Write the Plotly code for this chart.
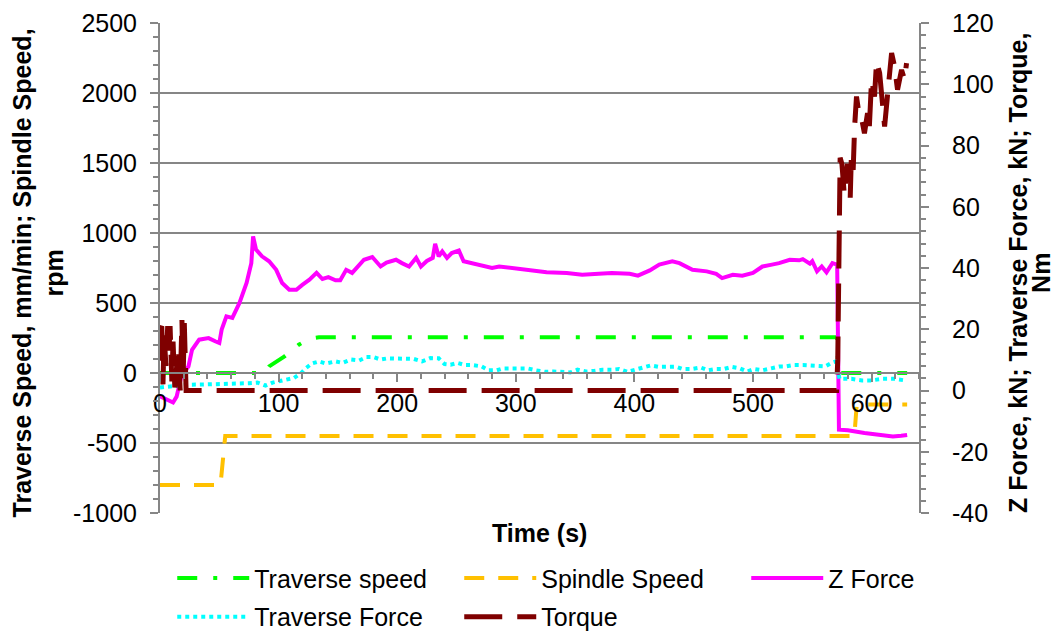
import plotly.graph_objects as go

# ---------------- data ----------------
# Traverse speed, mm/min (left axis)
ts_time = [0, 88, 92, 105, 117, 126, 134, 571, 572, 630]
ts_val = [0, 0, 47, 119, 202, 245, 255, 255, 0, 0]

# Spindle speed, rpm (left axis)
ss_time = [0, 51, 55, 585.5, 587.5, 630]
ss_val = [-800, -800, -450, -450, -225, -225]

# Z force, kN (right axis)
zf_time = [0, 11, 14, 18, 24, 27, 33, 41, 47, 50, 52, 56, 61, 67, 73, 77, 78.5, 81, 86, 92,
           98, 103, 109, 115, 120, 126, 132, 137, 142, 148, 152, 157, 162, 172, 179, 186, 191, 199, 204, 210,
           216, 220, 225, 230, 232, 235, 238, 242, 246, 252, 256, 263, 272, 280, 286, 297, 314, 326, 343, 356,
           370, 381, 396, 403, 413, 421, 432, 438, 449, 461, 469, 474, 483, 491, 500, 508, 516, 522, 531, 539,
           542, 548, 550, 554, 558, 562, 567, 571, 572.5, 580, 594, 605, 618, 625, 630]
zf_val = [-1.9, -3.9, -2.0, 4.6, 7.9, 13.3, 16.6, 17.1, 16.0, 15.5, 19.9, 24.2, 23.7, 28.6, 35.1, 41.6, 50.3, 46.0, 43.8, 42.2,
          39.4, 35.1, 32.9, 32.9, 34.5, 36.2, 38.4, 36.4, 37.0, 36.0, 36.0, 39.4, 38.4, 42.7, 43.6, 40.5, 41.8, 42.7, 41.6, 40.5,
          43.3, 40.5, 42.3, 43.3, 47.9, 43.8, 45.4, 43.3, 44.9, 45.7, 42.2, 41.6, 40.5, 40.0, 40.5, 40.0, 39.2, 38.6, 38.4, 37.8,
          38.1, 38.4, 38.1, 37.5, 39.2, 41.1, 42.2, 41.6, 39.4, 38.9, 38.1, 36.7, 37.8, 37.5, 38.4, 40.5, 41.1, 41.6, 42.7, 42.5,
          42.9, 41.4, 42.2, 38.9, 40.5, 38.6, 41.6, 41.1, -12.8, -13.0, -13.9, -14.4, -15.0, -14.8, -14.5]

# Traverse force, kN (right axis)
tf_time = [0, 12, 24, 40, 61, 75, 82, 89, 95, 102, 113, 119, 123, 128, 134, 140, 148, 154, 161, 168,
           174, 180, 186, 192, 200, 207, 214, 221, 228, 235, 240, 245, 251, 257, 263, 271, 277, 284, 289, 303,
           310, 317, 325, 332, 339, 346, 352, 359, 366, 373, 381, 387, 394, 401, 407, 414, 421, 427, 435, 441,
           448, 456, 462, 468, 475, 482, 489, 495, 501, 508, 515, 522, 527, 534, 542, 548, 554, 561, 566, 570,
           573, 583, 592, 600, 609, 619, 628]
tf_val = [1.0, 1.5, 1.9, 2.0, 2.1, 2.4, 2.6, 1.6, 2.6, 3.3, 4.1, 5.7, 7.3, 8.8, 9.5, 8.8, 9.5, 9.0, 10.1, 9.8,
          10.9, 10.9, 10.1, 10.5, 10.4, 10.1, 10.3, 9.5, 10.6, 10.5, 8.6, 8.4, 9.0, 8.3, 8.3, 7.9, 6.6, 6.6, 7.2, 7.2,
          7.2, 6.6, 6.1, 6.2, 6.1, 5.9, 6.8, 6.2, 6.4, 6.8, 6.8, 7.0, 6.1, 6.8, 7.2, 8.2, 7.7, 7.8, 7.8, 7.0,
          7.0, 7.5, 6.6, 7.0, 7.0, 7.7, 7.2, 6.2, 7.0, 6.6, 7.2, 7.8, 7.8, 8.3, 8.3, 8.1, 7.9, 7.9, 9.0, 9.5,
          3.8, 3.8, 3.3, 3.3, 3.8, 3.8, 3.3]

# Torque, Nm (right axis)
tq_time = [0, 1.5, 2.5, 3.5, 5, 6.5, 7.5, 8.5, 10, 11, 12.5, 14, 15.5, 17, 18.5, 19.5, 20.5, 22, 25,
           570.5, 571.5, 572, 572.5, 573, 573.5, 575, 577, 579.7, 582, 583, 584.5, 585.7, 587.3, 589.9, 592, 594,
           596.6, 598, 600, 602.5, 604.2, 606.8, 609, 611, 613.5, 616.9, 619.4, 621.9, 625.3, 627.8, 629.5]
tq_val = [20, 21, 2, 18, 8, 21, 12, 21, 3, 16, 1, 9, 14, 0, 23, 4, 22, 0, 0,
          0, 10, 30, 55, 62, 76, 74, 64, 74, 63, 77, 72, 86, 96, 89, 88, 84,
          90.6, 85, 101.5, 96, 107.5, 103.7, 96, 86.2, 96.6, 110.2, 105.8, 98.2, 104.7, 101.5, 106.9]

x_tickvals = [0, 100, 200, 300, 400, 500, 600]
x_ticktext = ["0", "100", "200", "300", "400", "500", "600"]
y1_tickvals = [-1000, -500, 0, 500, 1000, 1500, 2000, 2500]
y1_ticktext = ["-1000", "-500", "0", "500", "1000", "1500", "2000", "2500"]
y2_tickvals = [-40, -20, 0, 20, 40, 60, 80, 100, 120]
y2_ticktext = ["-40", "-20", "0", "20", "40", "60", "80", "100", "120"]

# ---------------- figure ----------------
FONT = "Liberation Sans, Arial, sans-serif"
AX = "#868686"
FS = 25

fig = go.Figure()
fig.add_trace(go.Scatter(x=ts_time, y=ts_val, name="Traverse speed", mode="lines",
                         line=dict(color="#00FF00", width=4, dash="20px,16px,4px,16px"),
                         yaxis="y", legend="legend"))
fig.add_trace(go.Scatter(x=ss_time, y=ss_val, name="Spindle Speed", mode="lines",
                         line=dict(color="#FFC000", width=4, dash="20px,14px"),
                         yaxis="y", legend="legend"))
fig.add_trace(go.Scatter(x=zf_time, y=zf_val, name="Z Force", mode="lines",
                         line=dict(color="#FF00FF", width=4),
                         yaxis="y2", legend="legend"))
fig.add_trace(go.Scatter(x=tf_time, y=tf_val, name="Traverse Force", mode="lines",
                         line=dict(color="#00FFFF", width=4, dash="4px,4px"),
                         yaxis="y2", legend="legend2"))
fig.add_trace(go.Scatter(x=tq_time, y=tq_val, name="Torque", mode="lines",
                         line=dict(color="#7F0000", width=5, dash="38px,15px"),
                         yaxis="y2", legend="legend2"))

legend_common = dict(orientation="h", xanchor="left", x=-0.001, yanchor="middle",
                     entrywidth=187, entrywidthmode="pixels", itemwidth=72,
                     font=dict(family=FONT, size=FS, color="black"),
                     bgcolor="rgba(0,0,0,0)", indentation=13, tracegroupgap=0)

fig.update_layout(
    width=1059, height=631,
    margin=dict(l=160, r=140, t=23, b=118, autoexpand=False),
    paper_bgcolor="white", plot_bgcolor="white",
    font=dict(family=FONT, size=FS, color="black"),
    showlegend=True,
    legend=dict(**legend_common, y=-0.133),
    legend2=dict(**legend_common, y=-0.212),
    xaxis=dict(range=[0, 640], anchor="free", position=1000 / 3500,
               showline=True, linecolor=AX, linewidth=2,
               tickmode="array", tickvals=x_tickvals, ticktext=x_ticktext,
               ticks="outside", ticklen=8, tickwidth=2, tickcolor=AX,
               minor=dict(ticks="outside", ticklen=5, tickwidth=2, tickcolor=AX, dtick=20, tick0=0),
               showgrid=False, zeroline=False,
               tickfont=dict(family=FONT, size=FS, color="black")),
    yaxis=dict(range=[-1000, 2500], tickmode="array", tickvals=y1_tickvals, ticktext=y1_ticktext,
               showline=True, linecolor=AX, linewidth=2,
               ticks="outside", ticklen=8, tickwidth=2, tickcolor=AX,
               minor=dict(ticks="outside", ticklen=5, tickwidth=2, tickcolor=AX, dtick=100, tick0=0),
               showgrid=True, gridcolor=AX, gridwidth=2, zeroline=False,
               ticklabelstandoff=8,
               tickfont=dict(family=FONT, size=FS, color="black")),
    yaxis2=dict(range=[-40, 120], overlaying="y", side="right", anchor="x",
                tickmode="array", tickvals=y2_tickvals, ticktext=y2_ticktext,
                showline=True, linecolor=AX, linewidth=2,
                ticks="outside", ticklen=8, tickwidth=2, tickcolor=AX,
                minor=dict(ticks="outside", ticklen=5, tickwidth=2, tickcolor=AX, dtick=4, tick0=0),
                showgrid=False, zeroline=False,
                ticklabelstandoff=18,
                tickfont=dict(family=FONT, size=FS, color="black")),
)

fig.add_annotation(text="<b>Time (s)</b>", xref="paper", yref="paper", x=0.5, y=-0.041,
                   xanchor="center", yanchor="middle", showarrow=False,
                   font=dict(family=FONT, size=FS, color="black"))
fig.add_annotation(text="<b>Traverse Speed, mm/min; Spindle Speed,<br>rpm</b>",
                   xref="paper", yref="paper", x=-0.16, y=0.49, textangle=-90,
                   xanchor="center", yanchor="middle", showarrow=False,
                   font=dict(family=FONT, size=FS, color="black"))
# right axis title: two lines placed separately for tighter line spacing
fig.add_annotation(text="<b>Z Force, kN; Traverse Force, kN; Torque,</b>",
                   xref="paper", yref="paper", x=(1018 - 160) / 759, y=0.49, textangle=-90,
                   xanchor="center", yanchor="middle", showarrow=False,
                   font=dict(family=FONT, size=FS, color="black"))
fig.add_annotation(text="<b>Nm</b>",
                   xref="paper", yref="paper", x=(1041 - 160) / 759, y=0.49, textangle=-90,
                   xanchor="center", yanchor="middle", showarrow=False,
                   font=dict(family=FONT, size=FS, color="black"))

fig.write_html("out.html", config={"displayModeBar": False},
               post_script="document.body.style.margin='0';document.body.style.overflow='hidden';")
